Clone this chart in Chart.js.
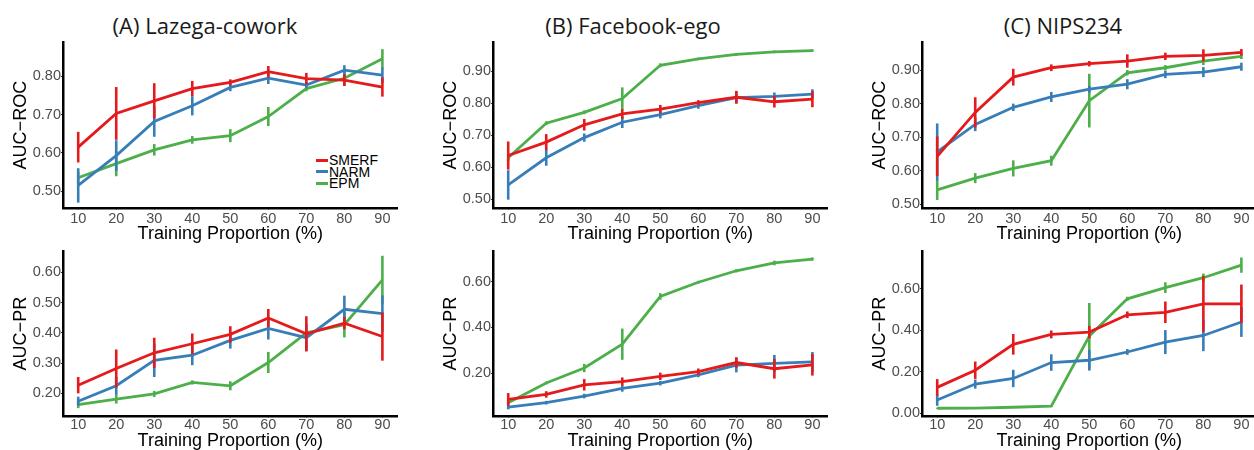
<!DOCTYPE html>
<html>
<head>
<meta charset="utf-8">
<script src="https://cdn.jsdelivr.net/npm/chart.js@4.4.1/dist/chart.umd.min.js"></script>
<style>
  html, body { margin:0; padding:0; background:#fff; }
  body { width:1254px; height:450px; overflow:hidden; position:relative; font-family:"Liberation Sans", Arial, sans-serif; }
  canvas { position:absolute; }
  .ptitle { position:absolute; top:10px; font-family:"Open Sans", sans-serif; font-size:22px; color:#1a1a1a; white-space:nowrap; transform:translateX(-50%); line-height:30px; }
  .legend { position:absolute; left:316px; top:155px; font-family:"Liberation Sans", Arial, sans-serif; font-size:14px; color:#000; }
  .legend div { height:11.6px; line-height:11.6px; white-space:nowrap; }
  .legend span.key { display:inline-block; width:12px; height:3px; vertical-align:middle; margin-right:1px; position:relative; top:-1px; }
</style>
</head>
<body>
<div class="ptitle" style="left:205px">(A) Lazega-cowork</div>
<div class="ptitle" style="left:633px">(B) Facebook-ego</div>
<div class="ptitle" style="left:1063px">(C) NIPS234</div>
<div class="legend" id="legend"></div>

<script>
// ---------- data ----------
const proportions = [10, 20, 30, 40, 50, 60, 70, 80, 90];
const methods = ['SMERF', 'NARM', 'EPM'];
const methodColors = ['#E41A1C', '#377EB8', '#4DAF4A'];
const panelTitles = ['(A) Lazega-cowork', '(B) Facebook-ego', '(C) NIPS234'];
const xTitle = 'Training Proportion (%)';

// (A) Lazega-cowork, AUC-ROC
const lazegaRocSmerf    = [0.615, 0.703, 0.736, 0.768, 0.784, 0.812, 0.794, 0.790, 0.772];
const lazegaRocSmerfErr = [0.040, 0.069, 0.046, 0.020, 0.008, 0.015, 0.015, 0.015, 0.025];
const lazegaRocNarm     = [0.515, 0.593, 0.682, 0.723, 0.771, 0.795, 0.777, 0.816, 0.803];
const lazegaRocNarmErr  = [0.045, 0.040, 0.040, 0.025, 0.010, 0.015, 0.008, 0.013, 0.020];
const lazegaRocEpm      = [0.535, 0.572, 0.608, 0.634, 0.645, 0.695, 0.768, 0.795, 0.846];
const lazegaRocEpmErr   = [0.015, 0.033, 0.015, 0.010, 0.017, 0.025, 0.007, 0.020, 0.025];
// (A) Lazega-cowork, AUC-PR
const lazegaPrSmerf     = [0.227, 0.282, 0.334, 0.364, 0.395, 0.449, 0.397, 0.432, 0.388];
const lazegaPrSmerfErr  = [0.027, 0.063, 0.050, 0.034, 0.027, 0.030, 0.058, 0.020, 0.080];
const lazegaPrNarm      = [0.174, 0.225, 0.309, 0.326, 0.375, 0.415, 0.384, 0.478, 0.464];
const lazegaPrNarmErr   = [0.015, 0.030, 0.055, 0.033, 0.027, 0.037, 0.045, 0.045, 0.060];
const lazegaPrEpm       = [0.163, 0.181, 0.198, 0.236, 0.225, 0.302, 0.400, 0.427, 0.575];
const lazegaPrEpmErr    = [0.012, 0.015, 0.010, 0.007, 0.015, 0.035, 0.010, 0.042, 0.080];

// (B) Facebook-ego, AUC-ROC
const fbRocSmerf        = [0.637, 0.679, 0.733, 0.767, 0.782, 0.802, 0.819, 0.805, 0.813];
const fbRocSmerfErr     = [0.044, 0.025, 0.018, 0.015, 0.013, 0.008, 0.020, 0.018, 0.025];
const fbRocNarm         = [0.545, 0.630, 0.693, 0.741, 0.765, 0.793, 0.818, 0.822, 0.829];
const fbRocNarmErr      = [0.046, 0.025, 0.013, 0.018, 0.012, 0.010, 0.018, 0.012, 0.015];
const fbRocEpm          = [0.630, 0.738, 0.772, 0.815, 0.919, 0.939, 0.953, 0.961, 0.965];
const fbRocEpmErr       = [0.010, 0.006, 0.006, 0.035, 0.006, 0.004, 0.004, 0.004, 0.004];
// (B) Facebook-ego, AUC-PR
const fbPrSmerf         = [0.086, 0.108, 0.150, 0.164, 0.187, 0.207, 0.247, 0.220, 0.237];
const fbPrSmerfErr      = [0.028, 0.014, 0.025, 0.018, 0.016, 0.014, 0.023, 0.043, 0.047];
const fbPrNarm          = [0.053, 0.072, 0.101, 0.134, 0.157, 0.193, 0.236, 0.243, 0.250];
const fbPrNarmErr       = [0.010, 0.008, 0.010, 0.014, 0.010, 0.010, 0.032, 0.037, 0.043];
const fbPrEpm           = [0.072, 0.158, 0.223, 0.327, 0.535, 0.597, 0.647, 0.681, 0.698];
const fbPrEpmErr        = [0.007, 0.006, 0.018, 0.068, 0.014, 0.006, 0.007, 0.010, 0.007];

// (C) NIPS234, AUC-ROC
const nipsRocSmerf      = [0.643, 0.774, 0.879, 0.907, 0.919, 0.927, 0.941, 0.944, 0.953];
const nipsRocSmerfErr   = [0.059, 0.045, 0.025, 0.010, 0.008, 0.020, 0.011, 0.018, 0.010];
const nipsRocNarm       = [0.656, 0.738, 0.789, 0.820, 0.843, 0.858, 0.887, 0.894, 0.910];
const nipsRocNarmErr    = [0.085, 0.020, 0.011, 0.015, 0.010, 0.015, 0.011, 0.015, 0.012];
const nipsRocEpm        = [0.543, 0.578, 0.607, 0.630, 0.809, 0.892, 0.907, 0.927, 0.941];
const nipsRocEpmErr     = [0.030, 0.015, 0.024, 0.015, 0.080, 0.008, 0.008, 0.012, 0.008];
// (C) NIPS234, AUC-PR
const nipsPrSmerf       = [0.124, 0.207, 0.332, 0.380, 0.391, 0.475, 0.487, 0.528, 0.528];
const nipsPrSmerfErr    = [0.040, 0.042, 0.050, 0.019, 0.030, 0.016, 0.052, 0.135, 0.093];
const nipsPrNarm        = [0.063, 0.140, 0.167, 0.244, 0.255, 0.295, 0.343, 0.375, 0.440];
const nipsPrNarmErr     = [0.028, 0.022, 0.042, 0.040, 0.050, 0.014, 0.058, 0.076, 0.072];
const nipsPrEpm         = [0.023, 0.024, 0.028, 0.033, 0.372, 0.552, 0.606, 0.654, 0.715];
const nipsPrEpmErr      = [0.003, 0.003, 0.003, 0.003, 0.160, 0.010, 0.026, 0.020, 0.037];

// tick labels
const rocTicksA = [0.5, 0.6, 0.7, 0.8];
const prTicksA  = [0.2, 0.3, 0.4, 0.5, 0.6];
const rocTicksB = [0.5, 0.6, 0.7, 0.8, 0.9];
const prTicksB  = [0.2, 0.4, 0.6];
const rocTicksC = [0.5, 0.6, 0.7, 0.8, 0.9];
const prTicksC  = [0.0, 0.2, 0.4, 0.6];

// ---------- layout ----------
const colLeft = [0, 430, 859];
const canvasW = 410;
const yAxisW = 63;
const padRight = 12.4;
const rows = [
  { top: 35,  h: 215, padTop: 6, xH: 42, tickPad: 2, titlePad: 7 },
  { top: 244, h: 206, padTop: 5, xH: 34, tickPad: 0, titlePad: 0 }
];

const panels = [
  { col:0, row:0, yTitle:'AUC\u2212ROC', min:0.456, max:0.889, ticks:rocTicksA,
    vals:[lazegaRocSmerf, lazegaRocNarm, lazegaRocEpm], errs:[lazegaRocSmerfErr, lazegaRocNarmErr, lazegaRocEpmErr] },
  { col:0, row:1, yTitle:'AUC\u2212PR', min:0.125, max:0.670, ticks:prTicksA,
    vals:[lazegaPrSmerf, lazegaPrNarm, lazegaPrEpm], errs:[lazegaPrSmerfErr, lazegaPrNarmErr, lazegaPrEpmErr] },
  { col:1, row:0, yTitle:'AUC\u2212ROC', min:0.473, max:0.991, ticks:rocTicksB,
    vals:[fbRocSmerf, fbRocNarm, fbRocEpm], errs:[fbRocSmerfErr, fbRocNarmErr, fbRocEpmErr] },
  { col:1, row:1, yTitle:'AUC\u2212PR', min:0.014, max:0.732, ticks:prTicksB,
    vals:[fbPrSmerf, fbPrNarm, fbPrEpm], errs:[fbPrSmerfErr, fbPrNarmErr, fbPrEpmErr] },
  { col:2, row:0, yTitle:'AUC\u2212ROC', min:0.489, max:0.983, ticks:rocTicksC,
    vals:[nipsRocSmerf, nipsRocNarm, nipsRocEpm], errs:[nipsRocSmerfErr, nipsRocNarmErr, nipsRocEpmErr] },
  { col:2, row:1, yTitle:'AUC\u2212PR', min:-0.0144, max:0.782, ticks:prTicksC,
    vals:[nipsPrSmerf, nipsPrNarm, nipsPrEpm], errs:[nipsPrSmerfErr, nipsPrNarmErr, nipsPrEpmErr] }
];

// ---------- error bar plugin (uses chart scales) ----------
const errorBarPlugin = {
  id: 'errorBars',
  afterDatasetDraw(chart, args) {
    const ds = chart.data.datasets[args.index];
    if (!ds.errors) return;
    const ctx = chart.ctx, xs = chart.scales.x, ys = chart.scales.y;
    ctx.save();
    ctx.strokeStyle = ds.borderColor;
    ctx.lineWidth = 2.6;
    ctx.lineCap = 'butt';
    ds.data.forEach((pt, i) => {
      const e = ds.errors[i];
      const px = xs.getPixelForValue(pt.x);
      ctx.beginPath();
      ctx.moveTo(px, ys.getPixelForValue(pt.y - e));
      ctx.lineTo(px, ys.getPixelForValue(pt.y + e));
      ctx.stroke();
    });
    ctx.restore();
  }
};

const tickFontFamily = '"Liberation Sans", Arial, sans-serif';

panels.forEach(p => {
  const r = rows[p.row];
  const cv = document.createElement('canvas');
  cv.width = canvasW; cv.height = r.h;
  cv.style.left = colLeft[p.col] + 'px';
  cv.style.top = r.top + 'px';
  cv.style.width = canvasW + 'px'; cv.style.height = r.h + 'px';
  document.body.appendChild(cv);

  const datasets = methods.map((m, k) => ({
    label: m,
    data: proportions.map((x, i) => ({ x: x, y: p.vals[k][i] })),
    errors: p.errs[k],
    borderColor: methodColors[k],
    backgroundColor: methodColors[k],
    borderWidth: 2.8,
    pointRadius: 0,
    tension: 0,
    fill: false,
    clip: false
  }));

  new Chart(cv.getContext('2d'), {
    type: 'line',
    data: { datasets },
    plugins: [errorBarPlugin],
    options: {
      responsive: false,
      animation: false,
      devicePixelRatio: 1,
      layout: { padding: { top: r.padTop, right: padRight, left: 0, bottom: 0 } },
      plugins: { legend: { display: false }, tooltip: { enabled: false }, title: { display: false } },
      scales: {
        x: {
          type: 'linear', min: 6, max: 94,
          afterBuildTicks: s => { s.ticks = proportions.map(v => ({ value: v })); },
          afterFit: s => { s.height = r.xH; },
          grid: { display: true, drawOnChartArea: false, drawTicks: true, tickLength: 2, tickColor: '#333', tickWidth: 1 },
          border: { display: true, color: '#000', width: 2.5 },
          ticks: { autoSkip: false, maxRotation: 0, padding: r.tickPad, color: '#4D4D4D',
                   font: { family: tickFontFamily, size: 14.5, lineHeight: 1 },
                   callback: v => String(v) },
          title: { display: true, text: xTitle, color: '#000',
                   font: { family: tickFontFamily, size: 18, lineHeight: 1 },
                   padding: { top: 0, bottom: r.titlePad } }
        },
        y: {
          type: 'linear', min: p.min, max: p.max,
          afterBuildTicks: s => { s.ticks = p.ticks.map(v => ({ value: v })); },
          afterFit: s => { s.width = yAxisW; },
          grid: { display: true, drawOnChartArea: false, drawTicks: true, tickLength: 2, tickColor: '#333', tickWidth: 1 },
          border: { display: true, color: '#000', width: 2.5 },
          ticks: { padding: 0, color: '#4D4D4D',
                   font: { family: tickFontFamily, size: 14.5, lineHeight: 1 },
                   callback: v => Number(v).toFixed(2) },
          title: { display: true, text: p.yTitle, color: '#000',
                   font: { family: tickFontFamily, size: 18, lineHeight: 1 },
                   padding: { top: 12, bottom: 0 } }
        }
      }
    }
  });
});

// legend (inside panel A, AUC-ROC)
const lg = document.getElementById('legend');
methods.forEach((m, k) => {
  const row = document.createElement('div');
  const key = document.createElement('span');
  key.className = 'key';
  key.style.background = methodColors[k];
  row.appendChild(key);
  row.appendChild(document.createTextNode(m));
  lg.appendChild(row);
});
</script>
</body>
</html>
